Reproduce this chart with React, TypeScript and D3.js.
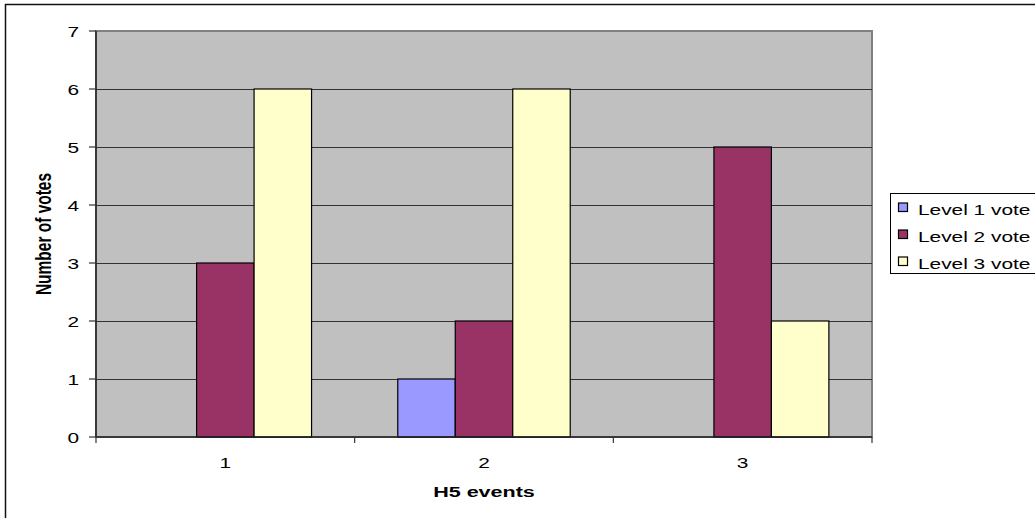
import React from "react";
import * as d3 from "d3";

// Chart data
const categories = ["1", "2", "3"];
const seriesNames = ["Level 1 vote", "Level 2 vote", "Level 3 vote"];
const level1 = [0, 1, 0];
const level2 = [3, 2, 5];
const level3 = [6, 6, 2];
const yTicks = [0, 1, 2, 3, 4, 5, 6, 7];
const seriesColors = ["#9999FF", "#993366", "#FFFFCC"];

const W = 1035;
const H = 518;
const plot = { left: 96, right: 872, top: 31, bottom: 437 };
const SX = 1.39; // horizontal text stretch
const FONT = "'Liberation Sans', Arial, sans-serif";

type TProps = {
  x: number;
  y: number;
  anchor?: "start" | "middle" | "end";
  size?: number;
  bold?: boolean;
  rotate?: number;
  children: React.ReactNode;
};

function SText({ x, y, anchor = "start", size = 15, bold = false, rotate = 0, children }: TProps) {
  return (
    <text
      transform={`translate(${x},${y}) scale(${SX},1)${rotate ? ` rotate(${rotate})` : ""}`}
      textAnchor={anchor}
      fontFamily={FONT}
      fontSize={size}
      fontWeight={bold ? "bold" : "normal"}
      fill="#000"
    >
      {children}
    </text>
  );
}

export default function App() {
  const series = [level1, level2, level3];

  const x = d3.scaleBand<string>().domain(categories).range([plot.left, plot.right]).padding(0);
  const xs = d3
    .scaleBand<string>()
    .domain(seriesNames)
    .range([0, x.bandwidth()])
    .paddingInner(0)
    .paddingOuter(0.75);
  const y = d3.scaleLinear().domain([0, 7]).range([plot.bottom, plot.top]);

  const boundaries = [...categories.map((c) => x(c) as number), plot.right];

  return (
    <div style={{ position: "fixed", left: 0, top: 0 }}>
      <svg width={W} height={H} style={{ display: "block", background: "#fff" }}>
        {/* outer frame */}
        <rect x={5.5} y={4.5} width={W + 20} height={H + 20} fill="none" stroke="#111" strokeWidth={1.5} />

        {/* plot area */}
        <rect
          x={plot.left}
          y={plot.top}
          width={plot.right - plot.left}
          height={plot.bottom - plot.top}
          fill="#C0C0C0"
          stroke="#808080"
          strokeWidth={2}
        />

        {/* gridlines */}
        {yTicks
          .filter((t) => t > 0 && t < 7)
          .map((t) => (
            <line
              key={`g${t}`}
              x1={plot.left}
              x2={plot.right}
              y1={Math.round(y(t)) + 0.5}
              y2={Math.round(y(t)) + 0.5}
              stroke="#333"
              strokeWidth={1}
            />
          ))}

        {/* bars */}
        {categories.map((c, ci) =>
          series.map((vals, si) => {
            const v = vals[ci];
            if (v <= 0) return null;
            const bx = (x(c) as number) + (xs(seriesNames[si]) as number);
            return (
              <rect
                key={`b${ci}-${si}`}
                x={bx}
                y={y(v)}
                width={xs.bandwidth()}
                height={y(0) - y(v)}
                fill={seriesColors[si]}
                stroke="#000"
                strokeWidth={1.2}
              />
            );
          })
        )}

        {/* axes */}
        <line x1={plot.left} x2={plot.left} y1={plot.top} y2={plot.bottom} stroke="#222" strokeWidth={1.5} />
        <line x1={plot.left} x2={plot.right} y1={plot.bottom} y2={plot.bottom} stroke="#222" strokeWidth={1.5} />

        {/* y ticks and labels */}
        {yTicks.map((t) => (
          <g key={`yt${t}`}>
            <line x1={plot.left - 7} x2={plot.left} y1={y(t)} y2={y(t)} stroke="#333" strokeWidth={1.2} />
            <SText x={79} y={y(t) + 5.5} anchor="end">
              {t}
            </SText>
          </g>
        ))}

        {/* x ticks and labels */}
        {boundaries.map((b, i) => (
          <line key={`xt${i}`} x1={b} x2={b} y1={plot.bottom} y2={plot.bottom + 6} stroke="#333" strokeWidth={1.2} />
        ))}
        {categories.map((c) => (
          <SText key={`xl${c}`} x={(x(c) as number) + x.bandwidth() / 2} y={468} anchor="middle">
            {c}
          </SText>
        ))}

        {/* axis titles */}
        <SText x={(plot.left + plot.right) / 2} y={497} anchor="middle" bold size={15.5}>
          H5 events
        </SText>
        <SText x={51} y={(plot.top + plot.bottom) / 2} anchor="middle" bold size={15.5} rotate={-90}>
          Number of votes
        </SText>

        {/* legend */}
        <rect x={890.5} y={193.5} width={160} height={80} fill="#fff" stroke="#000" strokeWidth={1} />
        {seriesNames.map((name, i) => {
          const cy = 207.5 + i * 27;
          return (
            <g key={`lg${i}`}>
              <rect x={898.5} y={cy - 4.5} width={9} height={8.5} fill={seriesColors[i]} stroke="#000" strokeWidth={1.2} />
              <SText x={918} y={cy + 7} anchor="start">
                {name}
              </SText>
            </g>
          );
        })}
      </svg>
    </div>
  );
}
